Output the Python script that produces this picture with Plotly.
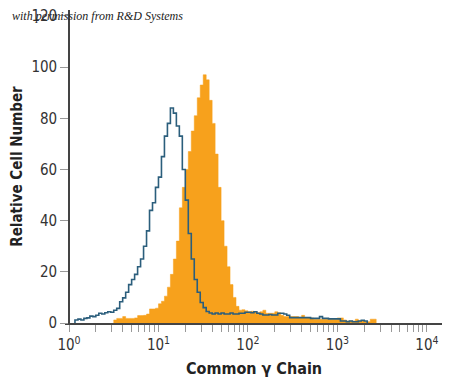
import plotly.graph_objects as go

# Histogram bins: each bin spans 1/30 of a decade, starting at 10^0
bins_per_decade = 30

isotype_counts = [
    0, 0, 1.2, 1.5, 1.2, 1.8, 2.0, 2.7, 2.5, 3.0,
    3.8, 3.5, 4.0, 4.4, 4.2, 5.0, 5.7, 8.3, 9.8, 12,
    15, 17, 19, 22, 25, 30, 36, 44, 47, 53,
    57, 65, 73, 78, 84, 82, 77, 73, 60, 48,
    35, 25, 17, 12, 8, 6, 4.5, 3.9, 3.5, 3.9,
    3.5, 3.9, 3.5, 3.5, 3.9, 3.5, 3.5, 3.8, 3.8, 4.2,
    4.2, 4.0, 4.4, 3.8, 3.5, 3.1, 3.1, 3.3, 3.1, 3.1,
    3.8, 3.8, 3.5, 3.0, 2.1, 2.1, 2.1, 2.1, 2.1, 2.1,
    2.1, 1.8, 1.8, 1.8, 2.5, 1.8, 1.8, 1.6, 1.6, 1.6,
    1.6, 0.8, 0.8, 0.5, 0.8, 0.5, 0.5, 0.8, 1.1, 0.8,
]

stained_counts = [
    0, 0, 0, 0, 0, 0, 0, 0, 0, 0,
    0, 0, 0, 0, 0, 1.2, 1.8, 1.8, 2.5, 1.8,
    1.8, 1.8, 2.0, 2.9, 2.9, 3.0, 3.5, 5.5, 5.5, 5.8,
    7.5, 8.5, 10.5, 14, 19, 25, 32, 45, 53, 60,
    67, 75, 81, 88, 93, 97, 95, 87, 78, 66,
    53, 40, 30, 22, 15, 10, 6.5, 5.0, 5.2, 4.8,
    4.4, 4.6, 4.4, 4.0, 4.4, 5.0, 3.8, 3.8, 3.8, 4.4,
    4.0, 3.0, 2.5, 2.5, 2.5, 2.5, 2.5, 2.2, 3.0, 2.0,
    2.0, 2.0, 1.5, 1.5, 1.5, 1.5, 1.5, 1.5, 1.5, 1.5,
    2.0, 2.0, 1.2, 0.8, 0.8, 0.8, 1.5, 0.8, 0.8, 0.6,
    0.5, 1.5, 1.5,
]

y_ticks = [0, 20, 40, 60, 80, 100, 120]
x_major = [1, 10, 100, 1000, 10000]
x_major_labels = ["10<sup>0</sup>", "10<sup>1</sup>", "10<sup>2</sup>",
                  "10<sup>3</sup>", "10<sup>4</sup>"]

ORANGE = "#F7A11C"
BLUE = "#2B5E7C"
TEXT = "#333333"
FONT = "DejaVu Sans Condensed, Liberation Sans Narrow, sans-serif"


def step_xy(counts):
    first = next(i for i, c in enumerate(counts) if c > 0)
    last = max(i for i, c in enumerate(counts) if c > 0)
    xs, ys = [10 ** (first / bins_per_decade)], [0]
    for i in range(first, last + 1):
        xs.append(10 ** (i / bins_per_decade))
        ys.append(counts[i])
    xs.append(10 ** ((last + 1) / bins_per_decade))
    ys.append(0)
    return xs, ys


fig = go.Figure()
sx, sy = step_xy(stained_counts)
fig.add_trace(go.Scatter(x=sx, y=sy, mode="lines", line=dict(shape="hv", color=ORANGE, width=0.5),
                         fill="tozeroy", fillcolor=ORANGE, hoverinfo="skip"))
ix, iy = step_xy(isotype_counts)
fig.add_trace(go.Scatter(x=ix, y=iy, mode="lines", line=dict(shape="hv", color=BLUE, width=1.6),
                         hoverinfo="skip"))

# ticks: majors with labels + minors unlabeled
tickvals, ticktext = [], []
for d in range(4):
    for m in range(1, 10):
        tickvals.append(m * 10 ** d)
        ticktext.append(x_major_labels[d] if m == 1 else "")
tickvals.append(x_major[-1])
ticktext.append(x_major_labels[-1])

# page body has an 8px margin; figure sized/offset to compensate
fig.update_layout(
    width=440, height=371,
    margin=dict(l=57, r=5, t=2, b=56),
    paper_bgcolor="white", plot_bgcolor="white",
    showlegend=False,
    font=dict(family=FONT, color=TEXT, size=15),
    xaxis=dict(type="log", range=[-0.0447, 4.18], tickvals=tickvals, ticktext=ticktext,
               ticks="outside", ticklen=7, tickcolor="#999999", tickwidth=1.2,
               showline=True, linecolor="#444444", linewidth=1.6, showgrid=False, zeroline=False,
               automargin=False, ticklabeloverflow="allow",
               tickfont=dict(size=15, family=FONT, color=TEXT),
               title=dict(text="<b>Common γ Chain</b>", font=dict(size=16, family=FONT, color="#222222"),
                          standoff=10)),
    yaxis=dict(range=[0, 122.3], tickvals=y_ticks, anchor="free", position=0.0106,
               ticks="outside", ticklen=8, tickcolor="#999999", tickwidth=1.2,
               showline=True, linecolor="#444444", linewidth=1.6, showgrid=False, zeroline=False,
               automargin=False, ticklabeloverflow="allow",
               tickfont=dict(size=15, family=FONT, color=TEXT),
               title=dict(text="<b>Relative Cell Number</b>", font=dict(size=15, family=FONT, color="#222222"),
                          standoff=6)),
)

fig.add_annotation(text="<i>with permission from R&amp;D Systems</i>", xref="paper", yref="paper",
                   x=-0.146, y=0.98, xanchor="left", yanchor="middle", showarrow=False,
                   font=dict(family="Liberation Serif, serif", size=12, color="#222222"))

fig.write_html("out.html")
